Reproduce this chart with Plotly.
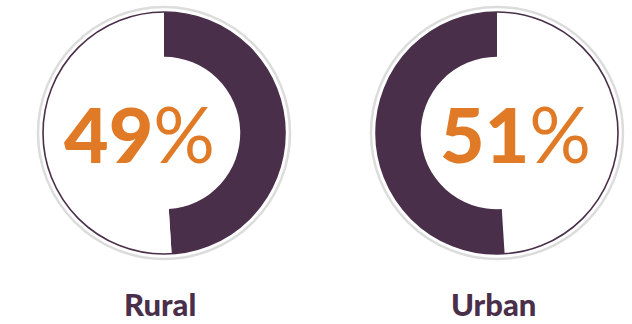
import plotly.graph_objects as go

# ---- data ----
categories = ["Rural", "Urban"]
shares = [49, 51]
purple = "#4A2F4A"
orange = "#E07A26"
gray = "#DCDCDC"

W, H = 632, 324
# layout constants (pixels)
centers = [(164, 133), (497, 133)]
R_OUT = 121
R_RING = 126
HOLE = 0.63
text_x = [139, 515]
label_x = [160, 493]

fig = go.Figure()

def px_x(x):
    return x / W

def px_y(y):
    return 1 - y / H

for i, (cat, val) in enumerate(zip(categories, shares)):
    cx, cy = centers[i]
    if i == 0:
        vals, cols = [val, 100 - val], [purple, "white"]
    else:
        vals, cols = [100 - val, val], ["white", purple]
    fig.add_trace(go.Pie(
        values=vals,
        labels=["a", "b"],
        sort=False,
        direction="clockwise",
        rotation=0,
        hole=HOLE,
        marker=dict(colors=cols, line=dict(width=0)),
        textinfo="none",
        hoverinfo="skip",
        showlegend=False,
        domain=dict(x=[px_x(cx - R_OUT), px_x(cx + R_OUT)],
                    y=[px_y(cy + R_OUT), px_y(cy - R_OUT)]),
    ))
    # outer light gray ring
    fig.add_shape(type="circle", xref="paper", yref="paper",
                  x0=px_x(cx - R_RING), x1=px_x(cx + R_RING),
                  y0=px_y(cy + R_RING), y1=px_y(cy - R_RING),
                  line=dict(color=gray, width=2.5), layer="below")
    # thin purple outline
    fig.add_shape(type="circle", xref="paper", yref="paper",
                  x0=px_x(cx - R_OUT), x1=px_x(cx + R_OUT),
                  y0=px_y(cy + R_OUT), y1=px_y(cy - R_OUT),
                  line=dict(color=purple, width=1.6), layer="above")
    # center percentage
    fig.add_annotation(x=px_x(text_x[i]), y=px_y(133), xref="paper", yref="paper",
                       text=f"<span style='font-weight:900'>{val}</span>"
                            f"<span style='font-weight:400'>%</span>",
                       showarrow=False,
                       font=dict(family="Lato", size=77, color=orange),
                       xanchor="center", yanchor="middle")
    # category label
    fig.add_annotation(x=px_x(label_x[i]), y=px_y(304), xref="paper", yref="paper",
                       text=f"<span style='font-weight:900'>{cat}</span>",
                       showarrow=False,
                       font=dict(family="Lato", size=31, color=purple),
                       xanchor="center", yanchor="middle")

fig.update_layout(width=W, height=H, margin=dict(l=0, r=0, t=0, b=0),
                  paper_bgcolor="white", plot_bgcolor="white")
fig.write_html("out.html")
